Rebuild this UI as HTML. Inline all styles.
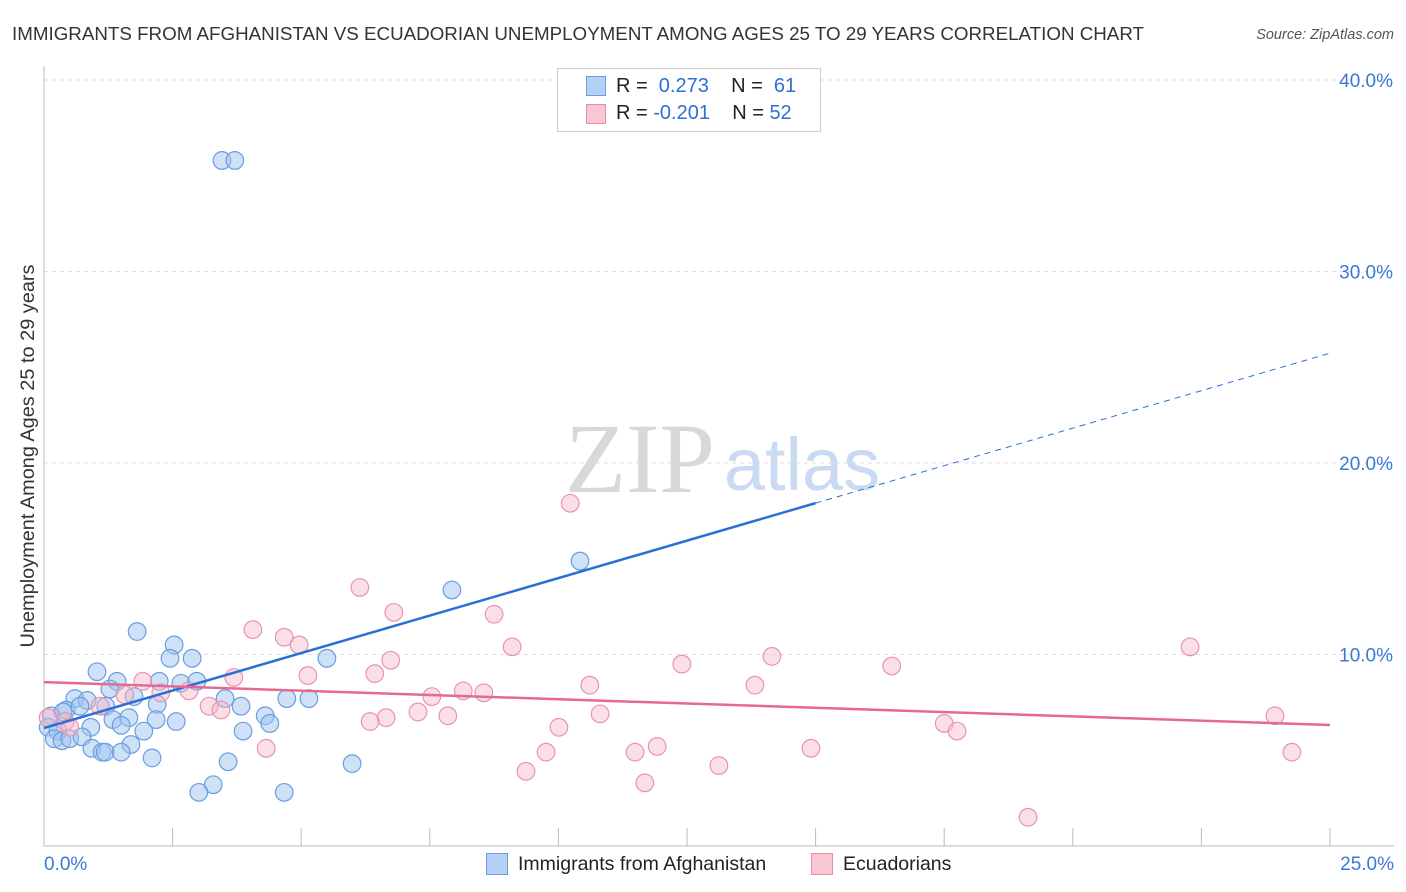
<!DOCTYPE html>
<html><head><meta charset="utf-8"><style>
body{margin:0;background:#fff;font-family:"Liberation Sans",sans-serif;}
#wrap{position:relative;width:1406px;height:892px;overflow:hidden}
</style></head><body>
<div id="wrap">
<svg id="chart" width="1406" height="892">
<text x="12" y="40" font-size="18.7" fill="#333" textLength="1132" lengthAdjust="spacingAndGlyphs">IMMIGRANTS FROM AFGHANISTAN VS ECUADORIAN UNEMPLOYMENT AMONG AGES 25 TO 29 YEARS CORRELATION CHART</text>
<text x="1394" y="39" font-size="14.5" fill="#555" font-style="italic" text-anchor="end">Source: ZipAtlas.com</text>
<text x="640" y="492" font-size="100" fill="#d8d8d8" font-family="Liberation Serif,serif" text-anchor="middle">ZIP</text>
<text x="802" y="490" font-size="74" fill="#c9daf2" text-anchor="middle">atlas</text>
<text transform="translate(34,456) rotate(-90)" font-size="19" fill="#333" text-anchor="middle" textLength="383" lengthAdjust="spacingAndGlyphs">Unemployment Among Ages 25 to 29 years</text>
<g id="grid"></g><g id="axes"></g><g id="pts"></g><g id="lines"></g>
</svg>
<div style="position:absolute;left:557px;top:68px;width:262px;height:62px;border:1px solid #ccc;background:#fff;font-size:20px;color:#222">
 <div style="position:absolute;left:28px;top:7px;width:18px;height:18px;background:#b5d0f5;border:1px solid #6a9de0"></div>
 <div style="position:absolute;left:58px;top:6px">R = <span style="color:#2e6fd6">&nbsp;0.273</span>&nbsp;&nbsp;&nbsp; N = <span style="color:#2e6fd6">&nbsp;61</span></div>
 <div style="position:absolute;left:28px;top:35px;width:18px;height:18px;background:#f9c6d4;border:1px solid #e88aa8"></div>
 <div style="position:absolute;left:58px;top:33px">R = <span style="color:#2e6fd6">-0.201</span>&nbsp;&nbsp;&nbsp; N = <span style="color:#2e6fd6">52</span></div>
</div>
<div style="position:absolute;left:486px;top:853px;width:20px;height:20px;background:#b5d0f5;border:1px solid #6a9de0"></div>
<div style="position:absolute;left:518px;top:853px;font-size:19.5px;color:#222">Immigrants from Afghanistan</div>
<div style="position:absolute;left:811px;top:853px;width:20px;height:20px;background:#f9c6d4;border:1px solid #e88aa8"></div>
<div style="position:absolute;left:843px;top:853px;font-size:19.5px;color:#222">Ecuadorians</div>
</div>
<script>
const yTicks=[10,20,30,40];
const yTickLabels=["10.0%","20.0%","30.0%","40.0%"];
const xTicks=[0,2.5,5,7.5,10,12.5,15,17.5,20,22.5,25];
const xEndLabels=["0.0%","25.0%"];
const blueX=[3.46,3.71,10.42,7.93,1.81,2.53,2.45,2.88,5.5,1.03,1.42,2.66,2.97,2.24,1.28,0.6,0.84,3.52,4.72,5.15,1.75,3.83,1.2,0.43,0.7,2.2,0.14,0.37,4.3,1.34,1.65,2.57,2.18,4.39,1.5,0.91,0.08,0.27,3.87,1.94,0.2,0.35,0.5,0.74,1.69,0.93,1.13,1.19,1.5,2.1,3.58,5.99,3.29,3.01,4.67];
const blueY=[35.8,35.8,14.88,13.37,11.2,10.5,9.8,9.8,9.8,9.1,8.6,8.5,8.6,8.6,8.2,7.7,7.6,7.7,7.7,7.7,7.8,7.3,7.3,7.1,7.3,7.4,6.8,7.0,6.8,6.6,6.7,6.5,6.6,6.4,6.3,6.2,6.2,6.0,6.0,6.0,5.6,5.5,5.6,5.7,5.3,5.1,4.9,4.9,4.9,4.6,4.4,4.3,3.2,2.8,2.8];
const pinkX=[10.23,6.14,6.8,8.75,4.06,4.67,4.96,9.1,22.28,6.74,14.15,12.4,16.48,6.43,5.13,3.69,1.92,2.27,2.82,10.61,13.82,1.57,8.15,8.55,7.54,3.21,3.44,1.09,7.27,7.85,10.81,6.65,6.34,23.93,0.41,0.5,10.01,17.5,17.75,0.08,4.32,9.76,11.92,11.49,14.91,24.26,13.12,9.37,11.68,19.13];
const pinkY=[17.9,13.5,12.2,12.1,11.3,10.9,10.5,10.4,10.4,9.7,9.9,9.5,9.4,9.0,8.9,8.8,8.6,8.0,8.1,8.4,8.4,7.9,8.1,8.0,7.8,7.3,7.1,7.3,7.0,6.8,6.9,6.7,6.5,6.8,6.5,6.2,6.2,6.4,6.0,6.7,5.1,4.9,5.2,4.9,5.1,4.9,4.2,3.9,3.3,1.5];
const blueLine=[6.16,0.783]; // intercept, slope
const blueSolidEnd=15;
const pinkLine=[8.56,-0.0896];
const xMax=25;
const X=v=>44+v*51.44, Y=v=>846-v*19.15;
const NS="http://www.w3.org/2000/svg";
function mk(parent,tag,attrs){const e=document.createElementNS(NS,tag);for(const k in attrs)e.setAttribute(k,attrs[k]);document.getElementById(parent).appendChild(e);return e;}
yTicks.forEach((t,i)=>{
 const g=mk('grid','line',{x1:44,x2:1394,y1:Y(t),y2:Y(t),stroke:'#ddd','stroke-dasharray':'4 4'});
 
 
 const l=mk('axes','text',{x:1393,y:Y(t)+7,'font-size':19,fill:'#3a78d8','text-anchor':'end'});
 l.textContent=yTickLabels[i];
 
 
});
const ya=mk('axes','line',{x1:44,x2:44,y1:66,y2:846,stroke:'#bbb'});


const xa=mk('axes','line',{x1:44,x2:1394,y1:846,y2:846,stroke:'#bbb'});


xTicks.forEach(t=>{const k=mk('axes','line',{x1:X(t),x2:X(t),y1:828,y2:846,stroke:'#bbb'});
 
 });
[[0,'start',44],[xMax,'end',1394]].forEach((d,i)=>{const l=mk('axes','text',{x:d[2],y:870,'font-size':19,fill:'#3a78d8','text-anchor':d[1]});l.textContent=xEndLabels[i];
 
 });
blueX.forEach((x,i)=>{const c=mk('pts','circle',{cx:X(x),cy:Y(blueY[i]),r:8.8,fill:'rgba(160,196,240,0.5)',stroke:'#6a9de0','stroke-width':1.2});
 
 });
pinkX.forEach((x,i)=>{const c=mk('pts','circle',{cx:X(x),cy:Y(pinkY[i]),r:8.8,fill:'rgba(246,184,202,0.45)',stroke:'#ea93b0','stroke-width':1.2});
 
 });
const f=(L,x)=>L[0]+L[1]*x;
const b1=mk('lines','line',{x1:X(0),y1:Y(f(blueLine,0)),x2:X(blueSolidEnd),y2:Y(f(blueLine,blueSolidEnd)),stroke:'#2a6fd6','stroke-width':2.5});


const b2=mk('lines','line',{x1:X(blueSolidEnd),y1:Y(f(blueLine,blueSolidEnd)),x2:X(xMax),y2:Y(f(blueLine,xMax)),stroke:'#2a6fd6','stroke-width':1,'stroke-dasharray':'6 5'});


const p1=mk('lines','line',{x1:X(0),y1:Y(f(pinkLine,0)),x2:X(xMax),y2:Y(f(pinkLine,xMax)),stroke:'#e46a94','stroke-width':2.5});


</script>
</body></html>
